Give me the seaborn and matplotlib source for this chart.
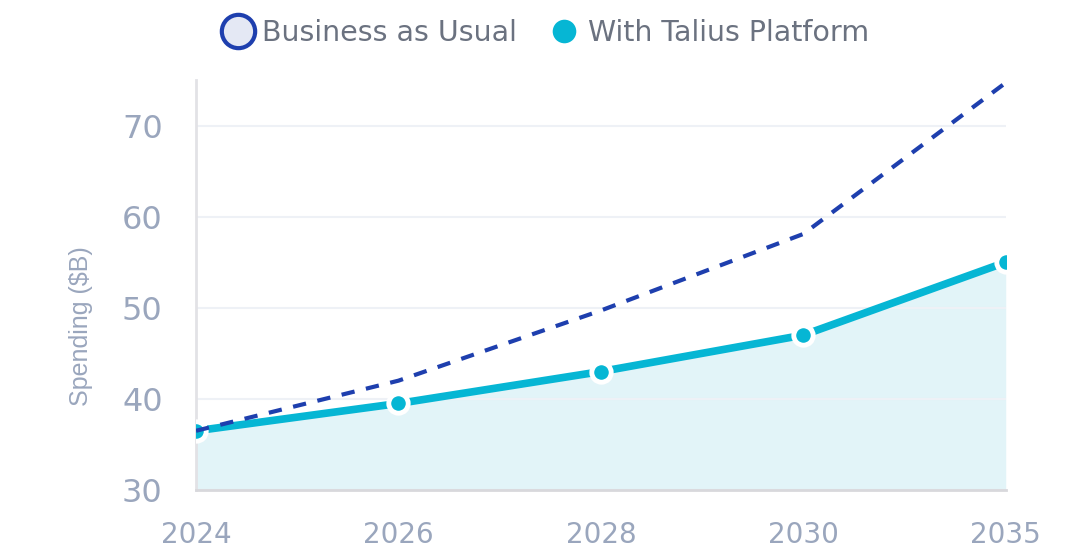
import matplotlib
matplotlib.use("Agg")
import matplotlib.pyplot as plt
from matplotlib.lines import Line2D
import seaborn as sns
import pandas as pd
import numpy as np

years = ["2024", "2026", "2028", "2030", "2035"]
business_as_usual = [36.5, 42.0, 49.7, 58.1, 74.7]
with_talius = [36.5, 39.5, 43.0, 47.0, 55.0]
y_ticks = [30, 40, 50, 60, 70]

BAU_COLOR = "#1e3fae"
TAL_COLOR = "#06b6d4"
TEXT_COLOR = "#6b7280"
TICK_COLOR = "#9aa6bd"

sns.set_theme(style="white")
plt.rcParams["font.family"] = ["DejaVu Sans"]

fig = plt.figure(figsize=(10.92, 5.54), dpi=100)
ax = fig.add_axes([0.1795, 0.1155, 0.7415, 0.7401])

df = pd.DataFrame({"year": years, "bau": business_as_usual, "tal": with_talius})
df["pos"] = np.arange(len(years))

ax.fill_between(df["pos"], 30, df["tal"], color="#e2f4f8", zorder=1, linewidth=0)
for v in y_ticks:
    ax.axhline(v, color="#eef1f6", linewidth=1.5, zorder=1.5)

sns.lineplot(data=df, x="pos", y="tal", ax=ax, color=TAL_COLOR, linewidth=5.5,
             marker="o", markersize=14, markerfacecolor=TAL_COLOR,
             markeredgecolor="white", markeredgewidth=3.5, zorder=3)
sns.lineplot(data=df, x="pos", y="bau", ax=ax, color=BAU_COLOR, linewidth=3,
             dashes=False, zorder=4)
ax.lines[-1].set_dashes([3.2, 2.8])

ax.set_xlim(0, len(years) - 1)
ax.set_ylim(30, 75)
ax.set_xticks(df["pos"])
ax.set_xticklabels(years)
ax.set_yticks(y_ticks)
ax.tick_params(axis="both", colors=TICK_COLOR, length=0)
ax.tick_params(axis="x", labelsize=20, pad=22)
ax.tick_params(axis="y", labelsize=23, pad=24)
ax.set_xlabel("")
ax.set_ylabel("Spending ($B)", color=TICK_COLOR, fontsize=18,
              family=["Liberation Sans", "DejaVu Sans"])
ax.yaxis.set_label_coords(-0.127, 0.40)

for s in ["top", "right"]:
    ax.spines[s].set_visible(False)
ax.spines["left"].set_color("#e2e2e6")
ax.spines["left"].set_linewidth(2)
ax.spines["bottom"].set_color("#d8d8dc")
ax.spines["bottom"].set_linewidth(2)

handles = [
    Line2D([], [], linestyle="none", marker="o", markersize=24,
           markerfacecolor="#e4e8f4", markeredgecolor=BAU_COLOR, markeredgewidth=3,
           label="Business as Usual"),
    Line2D([], [], linestyle="none", marker="o", markersize=19,
           markerfacecolor=TAL_COLOR, markeredgecolor="white", markeredgewidth=2,
           label="With Talius Platform"),
]
fig.legend(handles=handles, loc="center", bbox_to_anchor=(0.497, 0.94), ncol=2,
           frameon=False, fontsize=20.5, labelcolor=TEXT_COLOR, handletextpad=0.1,
           columnspacing=0.9, handlelength=1.5)

fig.savefig("out.png", dpi=100)
